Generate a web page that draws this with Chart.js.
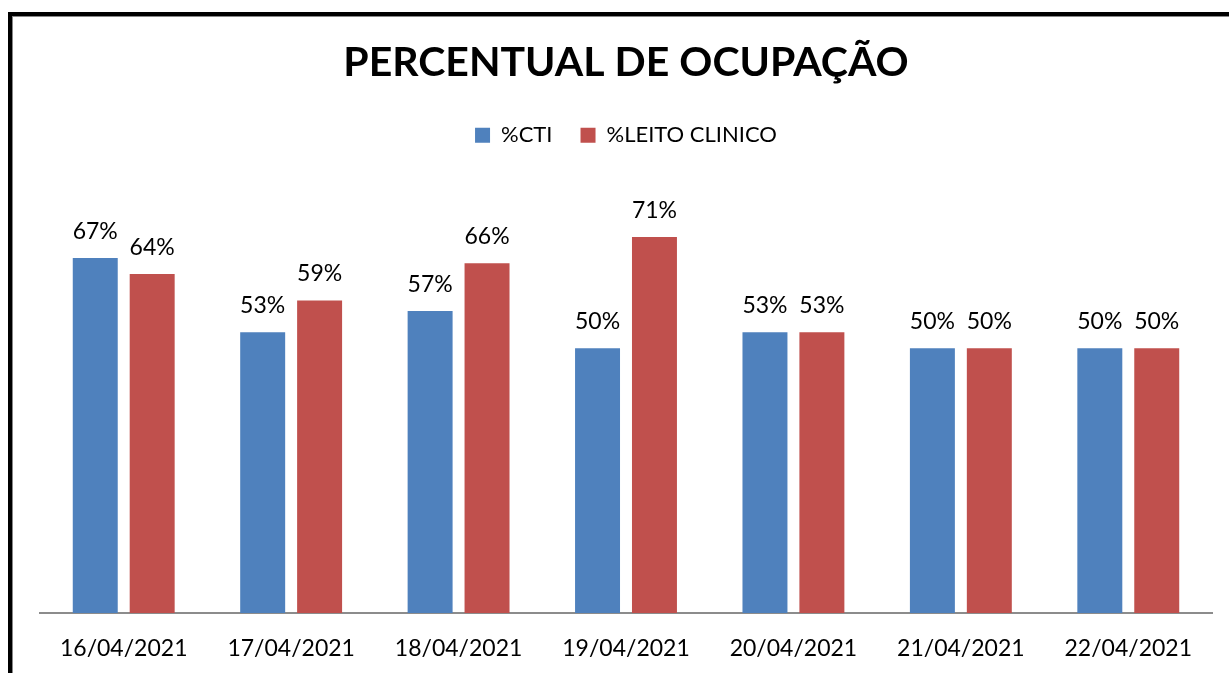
<!DOCTYPE html>
<html>
<head>
<meta charset="utf-8">
<script src="https://cdn.jsdelivr.net/npm/chart.js@4.4.1/dist/chart.umd.min.js"></script>
<style>
  html, body { margin: 0; padding: 0; background: #fff; overflow: hidden; }
  #frame {
    position: absolute; left: 8px; top: 12px; width: 1300px; height: 700px;
    border-left: 4px solid #000; border-top: 4px solid #000;
    box-shadow: inset 1px 1px 0 #888;
  }
  #chart { position: absolute; left: 0; top: 0; }
</style>
</head>
<body>
<div id="frame"></div>
<canvas id="chart" width="1229" height="673"></canvas>
<script>
const dates = ['16/04/2021', '17/04/2021', '18/04/2021', '19/04/2021', '20/04/2021', '21/04/2021', '22/04/2021'];
const cti = [67, 53, 57, 50, 53, 50, 50];
const leitoClinico = [64, 59, 66, 71, 53, 50, 50];

Chart.defaults.font.family = 'Lato, "Liberation Sans", sans-serif';
Chart.defaults.color = '#000';

// labels above every bar
const barLabels = {
  id: 'barLabels',
  afterDatasetsDraw(chart) {
    const ctx = chart.ctx;
    ctx.save();
    ctx.font = '23px Lato';
    ctx.fillStyle = '#000';
    ctx.textAlign = 'center';
    ctx.textBaseline = 'alphabetic';
    chart.data.datasets.forEach((ds, i) => {
      chart.getDatasetMeta(i).data.forEach((bar, j) => {
        ctx.fillText(ds.data[j] + '%', bar.x, bar.y - 19);
      });
    });
    ctx.restore();
  }
};

new Chart(document.getElementById('chart'), {
  type: 'bar',
  data: {
    labels: dates,
    datasets: [
      { label: '%CTI', data: cti, backgroundColor: '#4F81BD' },
      { label: '%LEITO CLINICO', data: leitoClinico, backgroundColor: '#C0504D' }
    ]
  },
  options: {
    responsive: false,
    animation: false,
    categoryPercentage: 0.68,
    barPercentage: 0.79,
    layout: { padding: { left: 40, right: 17, top: 0, bottom: 0 } },
    plugins: {
      title: {
        display: true,
        text: 'PERCENTUAL DE OCUPAÇÃO',
        font: { size: 41, weight: 'bold' },
        padding: { top: 38, bottom: 9 }
      },
      legend: {
        labels: { boxWidth: 15, boxHeight: 15, padding: 28, font: { size: 22 } }
      },
      tooltip: { enabled: false }
    },
    scales: {
      x: {
        grid: { display: false, drawTicks: false },
        border: { display: true, color: '#8c8c8c', width: 2 },
        ticks: { padding: 22, font: { size: 23 } },
        afterFit(s) { s.height = 60; }
      },
      spacer: {
        type: 'category',
        position: 'top',
        grid: { display: false, drawTicks: false },
        border: { display: false },
        ticks: { display: false },
        afterFit(s) { s.height = 33; }
      },
      y: { display: false, min: 0, max: 80 }
    }
  },
  plugins: [barLabels]
});
</script>
</body>
</html>
